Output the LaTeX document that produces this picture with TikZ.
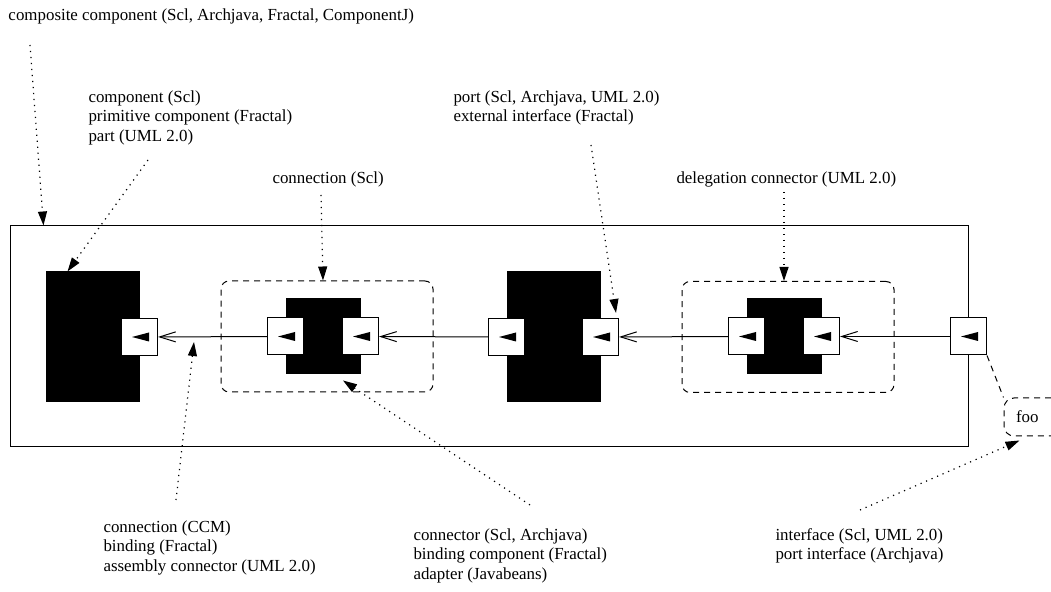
\documentclass[tikz,border=0pt]{standalone}
\usepackage{fontspec}
\setmainfont{Liberation Serif}
\usetikzlibrary{arrows.meta}
\tikzset{
  comp/.style={fill=black,draw=black,inner sep=0pt},
  port/.style={fill=white,draw=black,minimum width=18pt,minimum height=18.5pt,inner sep=0pt},
  group/.style={draw,dash pattern=on 3pt off 2.5pt,rounded corners=4pt,minimum width=106pt,minimum height=55.5pt,inner sep=0pt},
  wire/.style={-{Straight Barb[length=8pt,width=5pt]}},
  note/.style={line width=0.6pt,dash pattern=on 0.6pt off 2.4pt,-{Triangle[length=7pt,width=4.5pt]}},
  txt/.style={align=left,anchor=north west,inner sep=0pt}
}
\begin{document}
\begin{tikzpicture}[x=0.5pt,y=-0.5pt,line width=0.5pt,
  every node/.style={font=\fontsize{8.45}{9.75}\selectfont}]
  \useasboundingbox (0,0) rectangle (1051,592);
  % composite
  \node[draw,minimum width=479pt,minimum height=110.5pt,inner sep=0pt] (o) at (489,336.5) {};
  \node[group] (d1) at (327,336.5) {};
  \node[group] (d2) at (788,337) {};
  % components and connectors
  \node[comp,minimum width=46.5pt,minimum height=65pt] (c1) at (92.5,337) {};
  \node[comp,minimum width=46.5pt,minimum height=65pt] (c2) at (553.5,337) {};
  \node[comp,minimum width=37pt,minimum height=37.5pt] (k1) at (323,336.5) {};
  \node[comp,minimum width=37pt,minimum height=37.5pt] (k2) at (784,336.5) {};
  % ports
  \node[port] (p1) at (c1.east) {};
  \node[port] (p2) at (k1.west) {};
  \node[port] (p3) at (k1.east) {};
  \node[port] (p4) at (c2.west) {};
  \node[port] (p5) at (c2.east) {};
  \node[port] (p6) at (k2.west) {};
  \node[port] (p7) at (k2.east) {};
  \node[port] (p8) at (o.east) {};
  \foreach \i in {1,...,8}
    \fill (p\i.center) ++(-7.5,0) -- ++(17,-4.5) -- ++(0,9) -- cycle;
  \begin{scope}[wire]
    \draw (p2) -- (p1);
    \draw (p4) -- (p3);
    \draw (p6) -- (p5);
    \draw (p8) -- (p7);
  \end{scope}
  \node[draw,dash pattern=on 3pt off 2.5pt,rounded corners=5pt,text width=22pt,align=left,inner xsep=6pt,inner ysep=0pt,minimum height=19pt] (f) at (1038,417) {foo};
  \draw[dash pattern=on 3pt off 2.5pt] (p8.south east) -- (f.north west);
  % labels
  \node[txt] (t1) at (8,8) {composite component (Scl, Archjava, Fractal, ComponentJ)};
  \node[txt] (t2) at (88,90) {component (Scl)\\primitive component (Fractal)\\part (UML 2.0)};
  \node[txt] (t3) at (272,171) {connection (Scl)};
  \node[txt] (t4) at (453,90) {port (Scl, Archjava, UML 2.0)\\external interface (Fractal)};
  \node[txt] (t5) at (676,171) {delegation connector (UML 2.0)};
  \node[txt] (t6) at (103,520) {connection (CCM)\\binding (Fractal)\\assembly connector (UML 2.0)};
  \node[txt] (t7) at (413,528) {connector (Scl, Archjava)\\binding component (Fractal)\\adapter (Javabeans)};
  \node[txt] (t8) at (775,528) {interface (Scl, UML 2.0)\\port interface (Archjava)};
  \coordinate (s1) at (30,45);
  \coordinate (s2) at (148,160);
  \coordinate (s3) at (321,195);
  \coordinate (s4) at (591,145);
  \coordinate (s5) at (784,192);
  \coordinate (s6) at (176,500);
  \coordinate (s7) at (530,505);
  \coordinate (s8) at (860,510);
  \coordinate (e6) at (194,342);
  \begin{scope}[note]
    \draw (s1) -- ([xshift=17pt]o.north west);
    \draw (s2) -- ([xshift=11pt]c1.north west);
    \draw (s3) -- ([xshift=-2pt]d1.north);
    \draw (s4) -- ([shift={(-1.5pt,2.5pt)}]p5.north east);
    \draw (s5) -- ([xshift=-2pt]d2.north);
    \draw (s6) -- (e6);
    \draw (s7) -- ([shift={(10pt,-3pt)}]k1.south);
    \draw (s8) -- ([shift={(8pt,-2pt)}]f.south west);
  \end{scope}
\end{tikzpicture}
\end{document}
